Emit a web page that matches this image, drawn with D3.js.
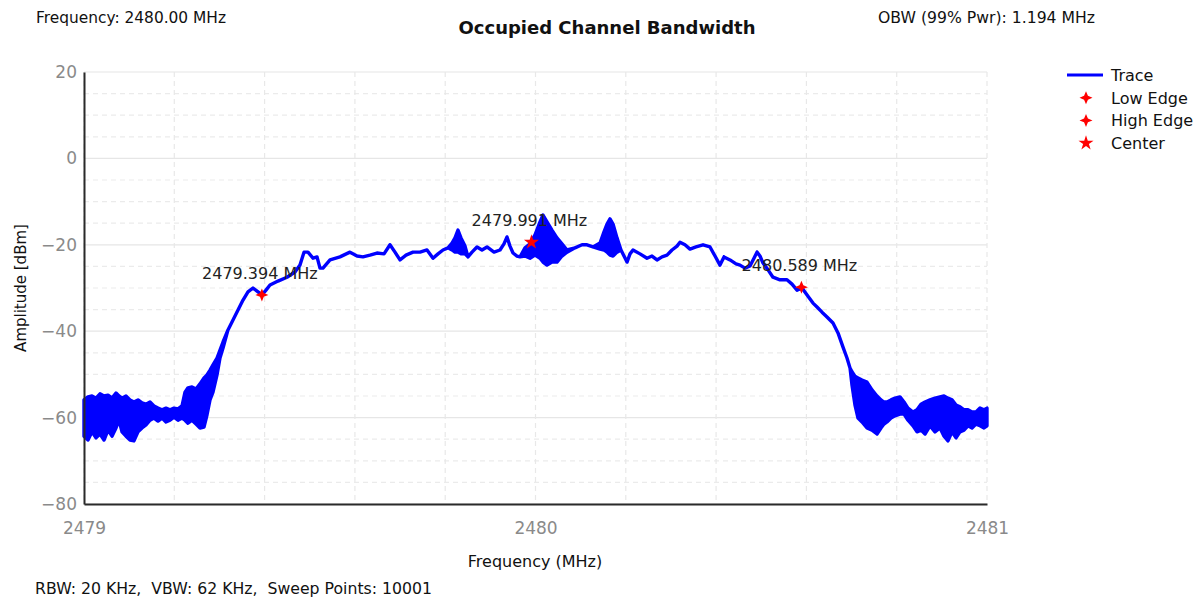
<!DOCTYPE html>
<html>
<head>
<meta charset="utf-8">
<script src="https://cdn.jsdelivr.net/npm/d3@7"></script>
<style>
  html, body { margin: 0; padding: 0; background: #ffffff; }
  svg { display: block; font-family: "DejaVu Sans", sans-serif; }
</style>
</head>
<body>
<svg id="chart" width="1203" height="603"></svg>
<script>
// ---------------- data ----------------
const chartTitle = "Occupied Channel Bandwidth";
const infoLeft = "Frequency: 2480.00 MHz";
const infoRight = "OBW (99% Pwr): 1.194 MHz";
const footerText = "RBW: 20 KHz,  VBW: 62 KHz,  Sweep Points: 10001";
const xLabel = "Frequency (MHz)";
const yLabel = "Amplitude [dBm]";

const xTicks = [2479, 2480, 2481];
const yTicks = [20, 0, -20, -40, -60, -80];

// trace envelope (MHz, upper dBm, lower dBm)
const traceFreq = [
  2479.0000, 2479.0089, 2479.0177, 2479.0266, 2479.0354, 2479.0443, 2479.0532, 2479.0620, 2479.0709, 2479.0775,
  2479.0842, 2479.0930, 2479.1019, 2479.1107, 2479.1196, 2479.1285, 2479.1373, 2479.1462, 2479.1550, 2479.1639,
  2479.1728, 2479.1816, 2479.1905, 2479.1993, 2479.2082, 2479.2171, 2479.2237, 2479.2303, 2479.2392, 2479.2481,
  2479.2569, 2479.2658, 2479.2724, 2479.2791, 2479.2857, 2479.2946, 2479.3012, 2479.3079,
  2479.3189, 2479.3300, 2479.3411, 2479.3522, 2479.3632, 2479.3743, 2479.3832, 2479.3942, 2479.4031, 2479.4120,
  2479.4297, 2479.4496, 2479.4673, 2479.4784, 2479.4873, 2479.4961, 2479.5072, 2479.5161, 2479.5227, 2479.5293,
  2479.5449, 2479.5670, 2479.5891, 2479.6047, 2479.6179, 2479.6334, 2479.6489, 2479.6645, 2479.6777, 2479.6888,
  2479.6999, 2479.7132, 2479.7287, 2479.7442, 2479.7597, 2479.7730, 2479.7841, 2479.7951, 2479.8062, 2479.8151,
  2479.8217, 2479.8283, 2479.8350, 2479.8439, 2479.8505, 2479.8594, 2479.8704, 2479.8815, 2479.8926, 2479.9081,
  2479.9214, 2479.9302, 2479.9369, 2479.9435, 2479.9502, 2479.9590, 2479.9657, 2479.9767, 2479.9878, 2479.9989,
  2480.0100, 2480.0166, 2480.0255, 2480.0365, 2480.0476, 2480.0587, 2480.0698, 2480.0875, 2480.1030, 2480.1141,
  2480.1273, 2480.1429, 2480.1517, 2480.1584, 2480.1650, 2480.1717, 2480.1805, 2480.1894, 2480.1960, 2480.2027,
  2480.2093, 2480.2159, 2480.2315, 2480.2470, 2480.2580, 2480.2691, 2480.2802, 2480.2913, 2480.3023, 2480.3134,
  2480.3200, 2480.3311, 2480.3422, 2480.3555, 2480.3710, 2480.3865, 2480.3976, 2480.4086, 2480.4175, 2480.4308,
  2480.4441, 2480.4529, 2480.4640, 2480.4751, 2480.4839, 2480.4906, 2480.4972, 2480.5039, 2480.5150, 2480.5260,
  2480.5415, 2480.5570, 2480.5681, 2480.5792, 2480.5903, 2480.6035, 2480.6146, 2480.6235, 2480.6346, 2480.6456,
  2480.6589, 2480.6700, 2480.6811, 2480.6899, 2480.6966,
  2480.7010, 2480.7076, 2480.7143, 2480.7231, 2480.7342, 2480.7453, 2480.7564, 2480.7652, 2480.7719, 2480.7785,
  2480.7874, 2480.7962, 2480.8073, 2480.8162, 2480.8250, 2480.8361, 2480.8450, 2480.8538, 2480.8627, 2480.8738,
  2480.8848, 2480.8959, 2480.9048, 2480.9136, 2480.9225, 2480.9314, 2480.9402, 2480.9491, 2480.9579, 2480.9668,
  2480.9756, 2480.9845, 2480.9934, 2481.0000
];
const traceHigh = [
  -55.9, -55.2, -55.0, -55.5, -54.5, -55.0, -54.8, -55.5, -54.3, -55.0,
  -55.5, -55.0, -55.9, -56.4, -55.9, -56.6, -56.9, -56.4, -57.3, -57.8,
  -58.2, -57.8, -58.2, -57.8, -58.0, -57.3, -54.1, -53.1, -52.9, -53.4,
  -52.2, -50.8, -50.1, -49.0, -47.8, -46.2, -44.4, -42.5,
  -39.7, -37.4, -35.1, -32.8, -30.9, -30.0, -30.7, -31.6, -30.5, -29.3,
  -28.4, -27.5, -26.3, -24.7, -21.7, -21.7, -23.1, -22.8, -25.4, -25.4,
  -23.5, -22.8, -21.7, -22.6, -22.8, -22.4, -21.9, -22.1, -20.0, -21.7,
  -23.5, -22.4, -21.7, -21.7, -21.2, -23.1, -22.1, -21.2, -20.7, -19.6,
  -18.4, -16.6, -18.4, -20.3, -22.8, -21.7, -20.5, -21.2, -20.5, -21.7,
  -21.2, -19.8, -18.2, -20.3, -21.9, -22.6, -22.8, -20.7, -19.8, -17.7,
  -14.7, -13.1, -14.7, -16.6, -18.4, -19.8, -21.2, -20.7, -20.0, -20.0,
  -20.5, -19.6, -17.0, -15.2, -14.0, -15.2, -18.4, -21.2, -22.6, -24.0,
  -22.1, -21.2, -22.1, -23.1, -22.6, -23.5, -22.8, -22.4, -21.2, -20.3,
  -19.4, -20.0, -21.0, -20.5, -20.0, -20.5, -22.6, -24.7, -22.8, -23.5,
  -24.4, -24.7, -25.4, -24.9, -23.1, -21.7, -22.6, -24.2, -25.8, -27.5,
  -28.1, -28.1, -29.1, -30.5, -30.0, -31.9, -33.5, -34.4, -35.6, -36.7,
  -38.1, -40.4, -43.7, -46.2, -48.5,
  -49.4, -50.4, -50.8, -51.3, -51.8, -53.6, -55.0, -55.9, -56.4, -56.4,
  -55.9, -55.5, -55.2, -56.4, -57.8, -58.7, -58.2, -56.9, -56.4, -55.9,
  -55.5, -55.2, -55.0, -55.5, -55.9, -57.1, -57.5, -58.2, -58.2, -58.7,
  -58.7, -57.8, -58.2, -57.8
];
const traceLow = [
  -64.3, -65.2, -63.3, -64.7, -63.8, -65.2, -62.9, -64.3, -62.4, -60.6,
  -63.3, -64.3, -65.2, -65.4, -63.3, -62.4, -61.7, -60.6, -60.1, -60.8,
  -60.1, -61.0, -60.6, -59.9, -60.6, -60.1, -60.6, -61.3, -60.6, -61.5,
  -62.4, -62.2, -59.4, -55.9, -54.1, -50.1, -46.2, -43.9,
  -39.7, -37.4, -35.1, -32.8, -30.9, -30.0, -30.7, -31.6, -30.5, -29.3,
  -28.4, -27.5, -26.3, -24.7, -21.7, -21.7, -23.1, -22.8, -25.4, -25.4,
  -23.5, -22.8, -21.7, -22.6, -22.8, -22.4, -21.9, -22.1, -20.0, -21.7,
  -23.5, -22.4, -21.7, -21.7, -21.2, -23.1, -22.1, -21.2, -20.7, -21.2,
  -21.7, -21.7, -22.1, -22.1, -22.8, -21.7, -20.5, -21.2, -20.5, -21.7,
  -21.2, -19.8, -18.2, -20.3, -21.9, -22.6, -22.8, -22.6, -23.1, -22.4,
  -23.1, -24.0, -24.7, -24.0, -24.0, -22.6, -21.7, -20.7, -20.0, -20.0,
  -20.5, -21.0, -21.2, -21.7, -22.4, -22.6, -21.7, -21.2, -22.6, -24.0,
  -22.1, -21.2, -22.1, -23.1, -22.6, -23.5, -22.8, -22.4, -21.2, -20.3,
  -19.4, -20.0, -21.0, -20.5, -20.0, -20.5, -22.6, -24.7, -22.8, -23.5,
  -24.4, -24.7, -25.4, -24.9, -23.1, -21.7, -22.6, -24.2, -25.8, -27.5,
  -28.1, -28.1, -29.1, -30.5, -30.0, -31.9, -33.5, -34.4, -35.6, -36.7,
  -38.1, -40.4, -43.7, -46.2, -48.5,
  -52.5, -57.1, -60.1, -61.0, -62.4, -62.9, -63.8, -62.4, -61.5, -61.0,
  -60.1, -59.6, -59.2, -59.2, -60.6, -61.9, -63.3, -62.9, -63.8, -61.9,
  -63.3, -62.4, -64.3, -65.4, -63.3, -64.7, -63.3, -62.9, -61.9, -62.4,
  -61.5, -61.9, -62.4, -61.9
];

// markers
const markerNames = ["Low Edge", "High Edge", "Center"];
const markerFreq = [2479.394, 2480.589, 2479.991];
const markerAmp = [-31.6, -29.8, -19.4];
const markerLabels = ["2479.394 MHz", "2480.589 MHz", "2479.991 MHz"];
const legendNames = ["Trace", "Low Edge", "High Edge", "Center"];

// ---------------- drawing ----------------
const svg = d3.select("#chart");
const L = 84, R = 987, T = 72, B = 504;
const x = d3.scaleLinear().domain([2479, 2481]).range([L, R]);
const y = d3.scaleLinear().domain([-80, 20]).range([B, T]);

const BLUE = "#0000ff", RED = "#ff0000";

// custom 4 point star symbol
const star4 = {
  draw(ctx, size) {
    const r = Math.sqrt(size) * 0.75, ri = r * 0.42;
    for (let i = 0; i < 8; i++) {
      const a = i * Math.PI / 4 - Math.PI / 2;
      const rr = i % 2 ? ri : r;
      const px = rr * Math.cos(a), py = rr * Math.sin(a);
      if (i === 0) ctx.moveTo(px, py); else ctx.lineTo(px, py);
    }
    ctx.closePath();
  }
};
const symbolFor = name => name === "Center" ? d3.symbolStar : star4;
const sizeFor = name => name === "Center" ? 70 : 75;

// gridlines
const grid = svg.append("g");
y.ticks(25).forEach(v => {
  const major = v % 20 === 0;
  grid.append("line")
    .attr("x1", L).attr("x2", R).attr("y1", y(v)).attr("y2", y(v))
    .attr("stroke", major ? "#e6e6e6" : "#ebebeb")
    .attr("stroke-width", 1.2)
    .attr("stroke-dasharray", major ? null : "5,4");
});
x.ticks(10).forEach(v => {
  grid.append("line")
    .attr("x1", x(v)).attr("x2", x(v)).attr("y1", T).attr("y2", B)
    .attr("stroke", "#e8e8e8")
    .attr("stroke-width", 1.2)
    .attr("stroke-dasharray", "5,4");
});

// trace
const rows = traceFreq.map((f, i) => ({ f, hi: traceHigh[i], lo: traceLow[i] }));
const area = d3.area().x(d => x(d.f)).y0(d => y(d.lo)).y1(d => y(d.hi));
svg.append("path")
  .datum(rows)
  .attr("d", area)
  .attr("fill", BLUE)
  .attr("stroke", BLUE)
  .attr("stroke-width", 3.4)
  .attr("stroke-linejoin", "round");

// axes
const yAxis = d3.axisLeft(y).tickValues(yTicks).tickSize(0).tickSizeOuter(0).tickPadding(7);
const gy = svg.append("g").attr("transform", `translate(${L},0)`).call(yAxis);
const xAxis = d3.axisBottom(x).tickValues(xTicks).tickFormat(d3.format("d")).tickSize(0).tickSizeOuter(0).tickPadding(18);
const gx = svg.append("g").attr("transform", `translate(0,${B})`).call(xAxis);
[gx, gy].forEach(g => {
  g.select(".domain").attr("stroke", "#2a2a2a").attr("stroke-width", 2);
  g.selectAll(".tick text")
    .attr("fill", "#8a8a8a")
    .style("font-family", "DejaVu Sans, sans-serif")
    .style("font-size", "17px");
});

// markers
markerNames.forEach((name, i) => {
  const mx = x(markerFreq[i]), my = y(markerAmp[i]);
  svg.append("path")
    .attr("d", d3.symbol().type(symbolFor(name)).size(sizeFor(name))())
    .attr("transform", `translate(${mx},${my})`)
    .attr("fill", RED);
  svg.append("text")
    .attr("x", mx - 2).attr("y", my - 16)
    .attr("text-anchor", "middle")
    .attr("fill", "#222")
    .style("font-size", "16px")
    .text(markerLabels[i]);
});

// titles and info texts
svg.append("text").attr("x", 607).attr("y", 34).attr("text-anchor", "middle")
  .style("font-size", "18px").style("font-weight", "bold").attr("fill", "#111")
  .text(chartTitle);
svg.append("text").attr("x", 36).attr("y", 23).style("font-size", "15px").attr("fill", "#111")
  .attr("textLength", 190).attr("lengthAdjust", "spacingAndGlyphs")
  .text(infoLeft);
svg.append("text").attr("x", 878).attr("y", 23).style("font-size", "15px").attr("fill", "#111")
  .attr("textLength", 217).attr("lengthAdjust", "spacingAndGlyphs")
  .text(infoRight);
svg.append("text").attr("x", 35).attr("y", 594).style("font-size", "15px").attr("fill", "#111")
  .style("white-space", "pre").attr("xml:space", "preserve")
  .attr("textLength", 397).attr("lengthAdjust", "spacingAndGlyphs")
  .text(footerText);
svg.append("text").attr("x", 535).attr("y", 567).attr("text-anchor", "middle")
  .style("font-size", "16px").attr("fill", "#111")
  .text(xLabel);
svg.append("text").attr("transform", `translate(26,${(T + B) / 2}) rotate(-90)`)
  .attr("text-anchor", "middle")
  .style("font-size", "15px").attr("fill", "#111")
  .text(yLabel);

// legend
const lg = svg.append("g");
lg.append("line").attr("x1", 1067).attr("x2", 1103).attr("y1", 75).attr("y2", 75)
  .attr("stroke", BLUE).attr("stroke-width", 3);
legendNames.forEach((name, i) => {
  const ly = 75 + i * 22.7;
  if (i > 0) {
    lg.append("path")
      .attr("d", d3.symbol().type(symbolFor(name)).size(sizeFor(name))())
      .attr("transform", `translate(1086,${ly})`)
      .attr("fill", RED);
  }
  lg.append("text").attr("x", 1111).attr("y", ly + 6)
    .style("font-size", "16px").attr("fill", "#111")
    .text(name);
});
</script>
</body>
</html>
